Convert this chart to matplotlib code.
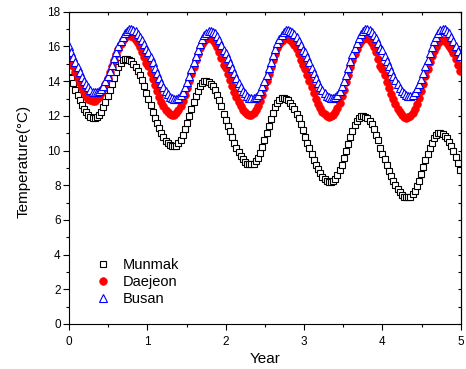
import numpy as np
import matplotlib
matplotlib.use('Agg')
import matplotlib.pyplot as plt

plt.rcParams['font.family'] = ['Liberation Sans', 'DejaVu Sans']

# sampling every 10 days over 5 years
days = np.arange(0, 1830, 10)
year = days / 365.0

# temperatures (deg C), one line per year
munmak = [
    14.6, 14.2, 13.9, 13.5, 13.2, 12.9, 12.6, 12.4, 12.2, 12.05, 11.95, 11.9, 11.9, 11.94, 12.05, 12.24, 12.49, 12.78, 13.13, 13.49, 13.86, 14.21, 14.52, 14.80, 15.03, 15.20, 15.29, 15.30, 15.25, 15.15, 15.01, 14.82, 14.59, 14.34, 14.05, 13.71, 13.33,
    12.97, 12.61, 12.25, 11.90, 11.58, 11.28, 10.99, 10.77, 10.56, 10.41, 10.31, 10.25, 10.25, 10.29, 10.42, 10.62, 10.90, 11.22, 11.61, 12.00, 12.41, 12.80, 13.15, 13.45, 13.71, 13.89, 13.99, 14.00, 13.95, 13.86, 13.72, 13.52, 13.23, 12.90, 12.56, 12.13,
    11.79, 11.44, 11.10, 10.77, 10.46, 10.17, 9.91, 9.69, 9.50, 9.35, 9.25, 9.20, 9.20, 9.24, 9.37, 9.58, 9.87, 10.20, 10.59, 11.00, 11.41, 11.81, 12.17, 12.49, 12.75, 12.94, 13.03, 13.05, 13.00, 12.91, 12.77, 12.59, 12.37, 12.12, 11.85, 11.53, 11.16,
    10.81, 10.46, 10.12, 9.79, 9.48, 9.18, 8.91, 8.69, 8.50, 8.35, 8.25, 8.20, 8.20, 8.24, 8.37, 8.58, 8.86, 9.18, 9.58, 9.97, 10.39, 10.78, 11.13, 11.45, 11.70, 11.89, 11.98, 12.00, 11.95, 11.86, 11.73, 11.53, 11.25, 10.92, 10.59, 10.17,
    9.83, 9.49, 9.16, 8.84, 8.54, 8.25, 7.99, 7.78, 7.59, 7.45, 7.35, 7.30, 7.30, 7.34, 7.47, 7.67, 7.94, 8.26, 8.64, 9.03, 9.43, 9.81, 10.16, 10.46, 10.71, 10.89, 10.99, 11.00, 10.95, 10.85, 10.70, 10.50, 10.25, 9.95, 9.65, 9.30, 8.90,
]
daejeon = [
    15.60, 15.24, 14.89, 14.53, 14.20, 13.89, 13.60, 13.35, 13.15, 13.00, 12.90, 12.85, 12.87, 12.95, 13.09, 13.29, 13.54, 13.83, 14.16, 14.52, 14.88, 15.23, 15.57, 15.87, 16.13, 16.35, 16.52, 16.62, 16.65, 16.62, 16.54, 16.40, 16.21, 15.97, 15.70, 15.39, 15.04,
    14.86, 14.49, 14.13, 13.77, 13.43, 13.11, 12.81, 12.57, 12.36, 12.20, 12.10, 12.05, 12.07, 12.16, 12.33, 12.57, 12.86, 13.20, 13.59, 14.00, 14.42, 14.84, 15.23, 15.59, 15.89, 16.14, 16.34, 16.46, 16.50, 16.47, 16.39, 16.22, 15.98, 15.69, 15.34, 14.95,
    14.77, 14.41, 14.07, 13.71, 13.38, 13.07, 12.79, 12.55, 12.35, 12.20, 12.10, 12.05, 12.07, 12.16, 12.33, 12.57, 12.86, 13.20, 13.59, 14.00, 14.42, 14.84, 15.23, 15.59, 15.89, 16.14, 16.34, 16.46, 16.50, 16.47, 16.39, 16.25, 16.06, 15.83, 15.56, 15.25, 14.91,
    14.73, 14.37, 14.01, 13.65, 13.31, 13.00, 12.71, 12.46, 12.25, 12.10, 12.00, 11.95, 11.97, 12.06, 12.24, 12.48, 12.77, 13.12, 13.52, 13.95, 14.38, 14.80, 15.20, 15.57, 15.88, 16.14, 16.34, 16.46, 16.50, 16.47, 16.38, 16.21, 15.96, 15.66, 15.30, 14.89,
    14.71, 14.34, 13.98, 13.62, 13.28, 12.96, 12.66, 12.42, 12.21, 12.05, 11.95, 11.90, 11.92, 12.01, 12.18, 12.42, 12.71, 13.05, 13.44, 13.85, 14.27, 14.69, 15.08, 15.44, 15.74, 15.99, 16.19, 16.31, 16.35, 16.30, 16.20, 16.05, 15.85, 15.60, 15.30, 14.95, 14.60,
]
busan = [
    16.00, 15.71, 15.41, 15.11, 14.81, 14.52, 14.25, 14.02, 13.81, 13.64, 13.50, 13.40, 13.36, 13.36, 13.43, 13.56, 13.75, 14.00, 14.28, 14.61, 14.96, 15.32, 15.66, 16.00, 16.29, 16.55, 16.76, 16.90, 16.98, 17.00, 16.96, 16.87, 16.74, 16.57, 16.36, 16.12, 15.85,
    15.70, 15.40, 15.08, 14.77, 14.46, 14.17, 13.89, 13.64, 13.43, 13.25, 13.10, 13.01, 12.96, 12.96, 13.03, 13.18, 13.38, 13.65, 13.96, 14.31, 14.70, 15.08, 15.45, 15.82, 16.13, 16.41, 16.64, 16.79, 16.88, 16.90, 16.86, 16.76, 16.58, 16.37, 16.10, 15.79,
    15.65, 15.36, 15.06, 14.76, 14.46, 14.17, 13.90, 13.67, 13.46, 13.29, 13.15, 13.05, 13.01, 13.01, 13.08, 13.23, 13.43, 13.70, 14.01, 14.36, 14.75, 15.13, 15.50, 15.87, 16.18, 16.46, 16.69, 16.84, 16.93, 16.95, 16.91, 16.83, 16.70, 16.53, 16.33, 16.09, 15.82,
    15.69, 15.39, 15.08, 14.78, 14.48, 14.19, 13.92, 13.68, 13.47, 13.29, 13.15, 13.06, 13.01, 13.01, 13.08, 13.23, 13.44, 13.71, 14.02, 14.38, 14.77, 15.16, 15.54, 15.90, 16.22, 16.50, 16.73, 16.89, 16.98, 17.00, 16.96, 16.86, 16.68, 16.48, 16.21, 15.90,
    15.77, 15.48, 15.18, 14.88, 14.59, 14.31, 14.04, 13.81, 13.60, 13.43, 13.30, 13.20, 13.16, 13.16, 13.23, 13.37, 13.58, 13.84, 14.15, 14.50, 14.87, 15.25, 15.62, 15.98, 16.29, 16.57, 16.79, 16.94, 17.03, 17.00, 16.90, 16.75, 16.55, 16.30, 16.05, 15.75, 15.45,
]

fig = plt.figure(figsize=(4.66, 3.69), dpi=100)
ax = fig.add_axes([0.148, 0.122, 0.841, 0.846])

ax.plot(year, munmak, 's', ms=5, mfc='white', mec='black', mew=0.8, label='Munmak')
ax.plot(year, daejeon, 'o', ms=5.5, mfc='red', mec='red', mew=0.5, label='Daejeon')
ax.plot(year, busan, '^', ms=6, mfc='white', mec='blue', mew=0.8, label='Busan')

ax.set_xlim(0, 5)
ax.set_ylim(0, 18)
ax.set_xticks(np.arange(0, 6, 1))
ax.set_xticks(np.arange(0.5, 5, 1), minor=True)
ax.set_yticks(np.arange(0, 19, 2))
ax.set_yticks(np.arange(1, 18, 2), minor=True)
ax.tick_params(axis='both', which='both', direction='out', top=False, right=False,
               labelsize=8.5, width=0.8)
ax.tick_params(axis='both', which='major', length=4)
ax.tick_params(axis='both', which='minor', length=2.5)
ax.tick_params(axis='x', pad=5)
ax.tick_params(axis='y', pad=2)
for sp in ax.spines.values():
    sp.set_linewidth(0.8)

# inward ticks on top and right
top = ax.secondary_xaxis('top')
top.set_xticks(np.arange(0, 5.01, 0.5))
top.tick_params(direction='in', length=2.5, width=0.8, labeltop=False)
right = ax.secondary_yaxis('right')
right.set_yticks(np.arange(0, 18.1, 1))
right.tick_params(direction='in', length=2.5, width=0.8, labelright=False)

ax.set_xlabel('Year', fontsize=11)
ax.set_ylabel('Temperature(°C)', fontsize=11)
ax.xaxis.set_label_coords(0.5, -0.09)
ax.yaxis.set_label_coords(-0.098, 0.52)

ax.legend(loc='lower left', bbox_to_anchor=(0.069, 0.058), frameon=False,
          fontsize=10.5, numpoints=1, handlelength=1.0, handletextpad=0.8,
          labelspacing=0.2, borderpad=0, borderaxespad=0)

fig.savefig('out.png', dpi=100)
